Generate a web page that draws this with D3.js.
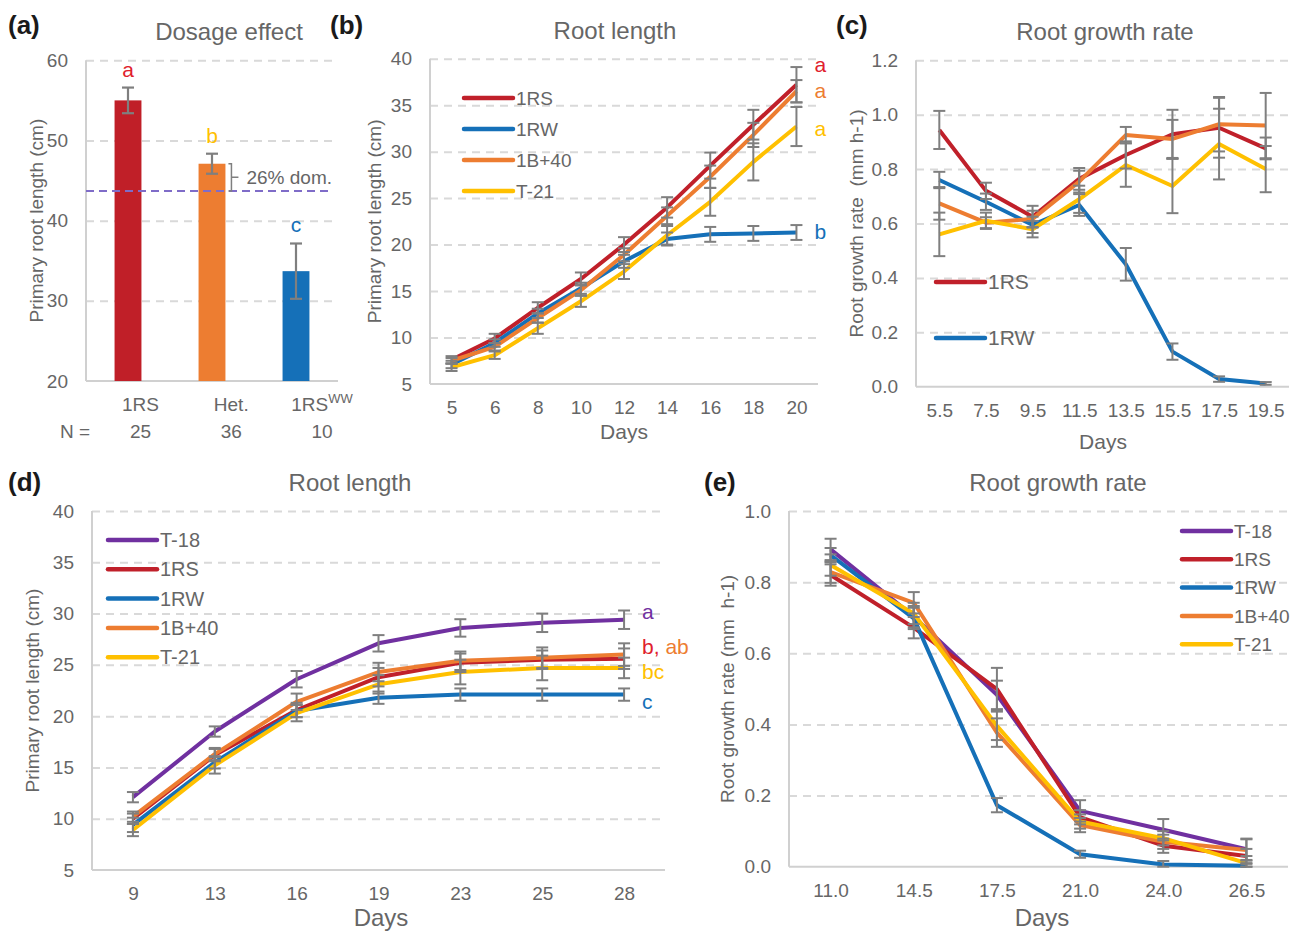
<!DOCTYPE html>
<html>
<head>
<meta charset="utf-8">
<script src="https://cdn.jsdelivr.net/npm/d3@7"></script>
<style>
body { margin: 0; background: #fff; }
svg text { font-family: "Liberation Sans", Arial, sans-serif; fill: #666; }
</style>
</head>
<body>
<script>
//----- (a) dosage effect -----
var dosageCats = ["1RS", "Het.", "1RS^WW"];
var dosageMeans = [55.0, 47.1, 33.7];
var dosageErr = [1.6, 1.25, 3.45];
var dosageN = [25, 36, 10];
var dosageLetters = ["a", "b", "c"];
var dosageMid = 43.7;           // mid-parent value (dashed line)
var dosageDom = "26% dom.";
var dosageTicks = [20, 30, 40, 50, 60];

//----- (b) root length, 4 lines -----
var lenDays = ["5", "6", "8", "10", "12", "14", "16", "18", "20"];
var len1RS  = [7.6, 9.9, 13.2, 16.3, 20.0, 24.0, 28.5, 32.9, 37.2];
var len1RW  = [7.1, 9.4, 12.6, 15.3, 18.2, 20.6, 21.1, 21.2, 21.3];
var len1B40 = [7.5, 9.0, 12.1, 15.1, 18.9, 23.1, 27.3, 31.8, 36.5];
var lenT21  = [6.8, 8.1, 11.0, 13.9, 17.1, 21.0, 24.6, 28.9, 32.7];
var len1RSErr  = [0.4, 0.5, 0.6, 0.7, 0.8, 1.1, 1.4, 1.6, 1.9];
var len1RWErr  = [0.4, 0.4, 0.5, 0.6, 0.7, 0.7, 0.8, 0.8, 0.8];
var len1B40Err = [0.3, 0.4, 0.5, 0.6, 0.7, 0.9, 1.2, 1.3, 1.2];
var lenT21Err  = [0.4, 0.4, 0.6, 0.6, 0.8, 1.0, 1.5, 2.0, 2.1];
var lenTicks = [5, 10, 15, 20, 25, 30, 35, 40];

//----- (c) root growth rate, 4 lines -----
var rateDays = ["5.5", "7.5", "9.5", "11.5", "13.5", "15.5", "17.5", "19.5"];
var rate1RS  = [0.944, 0.72, 0.625, 0.764, 0.852, 0.928, 0.952, 0.876];
var rate1RW  = [0.76, 0.68, 0.595, 0.668, 0.45, 0.129, 0.028, 0.012];
var rate1B40 = [0.674, 0.603, 0.617, 0.754, 0.925, 0.911, 0.965, 0.96];
var rateT21  = [0.56, 0.61, 0.579, 0.689, 0.815, 0.738, 0.892, 0.80];
var rate1RSErr  = [0.07, 0.03, 0.04, 0.04, 0.05, 0.09, 0.11, 0.04];
var rate1RWErr  = [0.03, 0.03, 0.03, 0.04, 0.06, 0.03, 0.01, 0.005];
var rate1B40Err = [0.06, 0.02, 0.03, 0.04, 0.03, 0.07, 0.10, 0.12];
var rateT21Err  = [0.08, 0.03, 0.03, 0.05, 0.08, 0.10, 0.13, 0.085];
var rateTicks = [0, 0.2, 0.4, 0.6, 0.8, 1.0, 1.2];

//----- (d) root length, 5 lines -----
var len2Days = ["9", "13", "16", "19", "23", "25", "28"];
var len2T18  = [12.1, 18.5, 23.6, 27.1, 28.6, 29.1, 29.4];
var len21RS  = [10.0, 16.2, 20.6, 23.8, 25.2, 25.5, 25.6];
var len21RW  = [9.4, 15.5, 20.5, 21.8, 22.1, 22.1, 22.1];
var len21B40 = [10.2, 16.3, 21.4, 24.3, 25.4, 25.7, 26.0];
var len2T21  = [8.9, 15.2, 20.3, 23.1, 24.3, 24.7, 24.7];
var len2T18Err  = [0.5, 0.5, 0.8, 0.8, 0.85, 0.9, 0.9];
var len21RSErr  = [0.5, 0.6, 0.7, 0.9, 0.9, 0.9, 1.0];
var len21RWErr  = [0.7, 0.6, 0.6, 0.6, 0.6, 0.6, 0.6];
var len21B40Err = [0.5, 0.6, 0.8, 0.9, 0.9, 1.0, 1.1];
var len2T21Err  = [0.6, 0.8, 0.8, 0.9, 1.2, 1.2, 1.0];

//----- (e) root growth rate, 5 lines -----
var rate2Days = ["11.0", "14.5", "17.5", "21.0", "24.0", "26.5"];
var rate2T18  = [0.892, 0.703, 0.483, 0.157, 0.104, 0.049];
var rate21RS  = [0.82, 0.672, 0.499, 0.139, 0.059, 0.03];
var rate21RW  = [0.876, 0.698, 0.173, 0.035, 0.006, 0.003];
var rate21B40 = [0.828, 0.742, 0.377, 0.117, 0.07, 0.047];
var rate2T21  = [0.848, 0.712, 0.396, 0.127, 0.08, 0.01];
var rate2T18Err  = [0.03, 0.03, 0.04, 0.03, 0.03, 0.03];
var rate21RSErr  = [0.03, 0.03, 0.06, 0.02, 0.02, 0.02];
var rate21RWErr  = [0.02, 0.03, 0.02, 0.01, 0.01, 0.005];
var rate21B40Err = [0.03, 0.03, 0.04, 0.02, 0.02, 0.03];
var rate2T21Err  = [0.03, 0.03, 0.04, 0.02, 0.02, 0.02];
var rate2Ticks = [0, 0.2, 0.4, 0.6, 0.8, 1.0];

// significance letters at line ends: [text, series, y value]
var lenLetters = [[["a", "1RS"]], [["a", "1B+40"]], [["a", "T-21"]], [["b", "1RW"]]];
var lenLetterY = [39.3, 36.5, 32.4, 21.3];
var len2Letters = [[["a", "T-18"]], [["b, ", "1RS"], ["ab", "1B+40"]], [["bc", "T-21"]], [["c", "1RW"]]];
var len2LetterY = [30.1, 26.7, 24.2, 21.3];

//colours
var color = {"T-18": "#7030a0", "1RS": "#c0202a", "1RW": "#1570b8", "1B+40": "#ed7d31", "T-21": "#ffc000"};
var letterColor = {"T-18": "#7030a0", "1RS": "#e0202c", "1RW": "#1570b8", "1B+40": "#ed7d31", "T-21": "#ffc000"};
var barColors = ["#c01f28", "#ed7d31", "#1570b8"];
var dosageLetterColors = ["#e0202c", "#ffc000", "#1570b8"];
var gridColor = "#d9d9d9", axisColor = "#d0d0d0", errColor = "#7f7f7f";

var svg = d3.select("body").append("svg").attr("width", 1298).attr("height", 932);

function panelLabel(txt, x, y) {
    svg.append("text").attr("x", x).attr("y", y).text(txt)
        .attr("font-size", 26).attr("font-weight", "bold").style("fill", "#1a1a1a");
}

//grid, tick labels and axis lines shared by all panels
function frame(g, y, o) {
    g.append("g").attr("transform", "translate(" + o.left + ",0)")
        .call(d3.axisLeft(y).tickValues(o.ticks.slice(1)).tickSize(-(o.right - o.left)).tickFormat(""))
        .call(function (s) { s.select(".domain").remove(); })
        .selectAll("line").attr("stroke", gridColor).attr("stroke-width", 2).attr("stroke-dasharray", "8,6");
    g.append("g").attr("transform", "translate(" + o.left + ",0)")
        .call(d3.axisLeft(y).tickValues(o.ticks).tickSize(0).tickPadding(18).tickFormat(o.fmt))
        .call(function (s) { s.select(".domain").remove(); })
        .selectAll("text").attr("font-size", 19);
    g.append("line").attr("x1", o.left).attr("x2", o.left).attr("y1", o.top).attr("y2", o.bottom)
        .attr("stroke", axisColor).attr("stroke-width", 2);
    g.append("line").attr("x1", o.left).attr("x2", o.right).attr("y1", o.bottom).attr("y2", o.bottom)
        .attr("stroke", axisColor).attr("stroke-width", 2);
    g.append("text").attr("x", o.titleX).attr("y", o.top - 20).attr("text-anchor", "middle")
        .attr("font-size", 24).text(o.title);
    g.append("text").attr("transform", "translate(" + o.ylabX + "," + ((o.top + o.bottom) / 2) + ") rotate(-90)")
        .attr("text-anchor", "middle").attr("dominant-baseline", "central")
        .attr("font-size", 19).style("white-space", "pre").text(o.ylab);
}

//----- panel (a) -----
(function () {
    var o = {left: 86, right: 338, top: 60.3, bottom: 381, ticks: dosageTicks, fmt: d3.format("d"),
        title: "Dosage effect", titleX: 229, ylab: "Primary root length (cm)", ylabX: 36};
    var g = svg.append("g");
    var x = d3.scaleBand().domain(dosageCats).range([o.left, o.right]).paddingInner(0.68).paddingOuter(0.34);
    var y = d3.scaleLinear().domain([20, 60]).range([o.bottom, o.top]);
    frame(g, y, o);

    g.selectAll(".bar").data(dosageMeans).enter().append("rect")
        .attr("x", function (d, i) { return x(dosageCats[i]); })
        .attr("y", function (d) { return y(d); })
        .attr("width", x.bandwidth())
        .attr("height", function (d) { return y(20) - y(d); })
        .attr("fill", function (d, i) { return barColors[i]; });

    //mid-parent dashed line
    g.append("line").attr("x1", o.left).attr("x2", o.right - 10).attr("y1", y(dosageMid)).attr("y2", y(dosageMid))
        .attr("stroke", "#7f6cc8").attr("stroke-width", 2).attr("stroke-dasharray", "8,5");

    //error bars
    dosageMeans.forEach(function (m, i) {
        var cx = x(dosageCats[i]) + x.bandwidth() / 2;
        var e = g.append("g").attr("stroke", errColor).attr("stroke-width", 2.2);
        e.append("line").attr("x1", cx).attr("x2", cx).attr("y1", y(m - dosageErr[i])).attr("y2", y(m + dosageErr[i]));
        e.append("line").attr("x1", cx - 6).attr("x2", cx + 6).attr("y1", y(m - dosageErr[i])).attr("y2", y(m - dosageErr[i]));
        e.append("line").attr("x1", cx - 6).attr("x2", cx + 6).attr("y1", y(m + dosageErr[i])).attr("y2", y(m + dosageErr[i]));
        g.append("text").attr("x", cx).attr("y", y(m + dosageErr[i]) - 11).attr("text-anchor", "middle")
            .attr("font-size", 21).style("fill", dosageLetterColors[i]).text(dosageLetters[i]);
    });

    //dominance bracket
    var bx = x(dosageCats[1]) + x.bandwidth() + 3;
    var y1 = y(dosageMeans[1]), y2 = y(dosageMid), ym = (y1 + y2) / 2;
    g.append("path").attr("d", "M" + bx + "," + y1 + "h3v" + (y2 - y1) + "h-3M" + (bx + 3) + "," + ym + "h7")
        .attr("fill", "none").attr("stroke", errColor).attr("stroke-width", 1.5);
    g.append("text").attr("x", bx + 18).attr("y", ym).attr("dy", "0.35em").attr("font-size", 19).text(dosageDom);

    //category labels and N row
    var lx = d3.scalePoint().domain(dosageCats).range([x(dosageCats[0]) + x.bandwidth() / 2 + 12.5,
        x(dosageCats[2]) + x.bandwidth() / 2 + 26]);
    dosageCats.forEach(function (c, i) {
        var parts = c.split("^");
        var t = g.append("text").attr("x", lx(c)).attr("y", 411).attr("text-anchor", "middle").attr("font-size", 19);
        t.append("tspan").text(parts[0]);
        if (parts[1]) t.append("tspan").attr("dy", -8).attr("font-size", 13).text(parts[1]);
        g.append("text").attr("x", lx(c)).attr("y", 438).attr("text-anchor", "middle").attr("font-size", 19).text(dosageN[i]);
    });
    g.append("text").attr("x", 60).attr("y", 438).attr("font-size", 19).text("N =");
    panelLabel("(a)", 8, 34);
})();

//----- line panels -----
function linePanel(o) {
    var g = svg.append("g");
    var x = d3.scalePoint().domain(o.days).range([o.left, o.right]).padding(0.5);
    var y = d3.scaleLinear().domain(o.domain).range([o.bottom, o.top]);
    frame(g, y, o);

    g.append("g").attr("transform", "translate(0," + o.bottom + ")")
        .call(d3.axisBottom(x).tickSize(0).tickPadding(16.5))
        .call(function (s) { s.select(".domain").remove(); })
        .selectAll("text").attr("font-size", 19);
    g.append("text").attr("x", o.daysX).attr("y", o.daysY).attr("text-anchor", "middle")
        .attr("font-size", o.daysSize).text("Days");

    var line = d3.line().x(function (d, i) { return x(o.days[i]); }).y(function (d) { return y(d); });
    o.series.forEach(function (s) {
        g.append("path").datum(s.v).attr("d", line).attr("fill", "none")
            .attr("stroke", color[s.name]).attr("stroke-width", 4).attr("stroke-linejoin", "round");
    });
    o.series.forEach(function (s) {
        var e = g.append("g").attr("stroke", errColor).attr("stroke-width", 2);
        s.v.forEach(function (v, i) {
            var cx = x(o.days[i]), lo = y(Math.max(0, v - s.e[i])), hi = y(v + s.e[i]);
            e.append("line").attr("x1", cx).attr("x2", cx).attr("y1", lo).attr("y2", hi);
            e.append("line").attr("x1", cx - 6).attr("x2", cx + 6).attr("y1", lo).attr("y2", lo);
            e.append("line").attr("x1", cx - 6).attr("x2", cx + 6).attr("y1", hi).attr("y2", hi);
        });
    });

    //legend
    o.legendNames.forEach(function (n, i) {
        var ly = o.legend.y + i * o.legend.dy;
        g.append("line").attr("x1", o.legend.x).attr("x2", o.legend.x + 49).attr("y1", ly).attr("y2", ly)
            .attr("stroke", color[n]).attr("stroke-width", 4.5).attr("stroke-linecap", "round");
        g.append("text").attr("x", o.legend.x + 52).attr("y", ly).attr("dy", "0.35em")
            .attr("font-size", o.legend.size).text(n);
    });

    //significance letters
    if (o.letters) {
        var lxPos = x(o.days[o.days.length - 1]) + 18;
        o.letters.forEach(function (parts, i) {
            var t = g.append("text").attr("x", lxPos).attr("y", y(o.letterY[i])).attr("dy", "0.3em")
                .attr("font-size", 21).style("white-space", "pre");
            parts.forEach(function (p) { t.append("tspan").style("fill", letterColor[p[1]]).text(p[0]); });
        });
    }
    panelLabel(o.label, o.labelX, o.labelY);
}

linePanel({
    left: 430, right: 818, top: 58.7, bottom: 384, domain: [5, 40], ticks: lenTicks, fmt: d3.format("d"),
    days: lenDays, title: "Root length", titleX: 615, ylab: "Primary root length (cm)", ylabX: 374,
    daysX: 624, daysY: 439, daysSize: 21,
    series: [{name: "1RS", v: len1RS, e: len1RSErr}, {name: "1RW", v: len1RW, e: len1RWErr},
        {name: "1B+40", v: len1B40, e: len1B40Err}, {name: "T-21", v: lenT21, e: lenT21Err}],
    legendNames: ["1RS", "1RW", "1B+40", "T-21"], legend: {x: 464, y: 98, dy: 31, size: 19},
    letters: lenLetters, letterY: lenLetterY, label: "(b)", labelX: 330, labelY: 34
});

linePanel({
    left: 916, right: 1289, top: 60.3, bottom: 386.7, domain: [0, 1.2], ticks: rateTicks, fmt: d3.format(".1f"),
    days: rateDays, title: "Root growth rate", titleX: 1105, ylab: "Root growth rate  (mm h-1)", ylabX: 856,
    daysX: 1103, daysY: 449, daysSize: 21,
    series: [{name: "1RS", v: rate1RS, e: rate1RSErr}, {name: "1RW", v: rate1RW, e: rate1RWErr},
        {name: "1B+40", v: rate1B40, e: rate1B40Err}, {name: "T-21", v: rateT21, e: rateT21Err}],
    legendNames: ["1RS", "1RW"], legend: {x: 936, y: 282, dy: 56, size: 21},
    label: "(c)", labelX: 836, labelY: 34
});

linePanel({
    left: 92, right: 665, top: 511, bottom: 870, domain: [5, 40], ticks: lenTicks, fmt: d3.format("d"),
    days: len2Days, title: "Root length", titleX: 350, ylab: "Primary root length (cm)", ylabX: 32,
    daysX: 381, daysY: 926, daysSize: 24,
    series: [{name: "T-18", v: len2T18, e: len2T18Err}, {name: "1RS", v: len21RS, e: len21RSErr},
        {name: "1RW", v: len21RW, e: len21RWErr}, {name: "1B+40", v: len21B40, e: len21B40Err},
        {name: "T-21", v: len2T21, e: len2T21Err}],
    legendNames: ["T-18", "1RS", "1RW", "1B+40", "T-21"], legend: {x: 108, y: 540, dy: 29.3, size: 20},
    letters: len2Letters, letterY: len2LetterY, label: "(d)", labelX: 8, labelY: 491
});

linePanel({
    left: 789, right: 1288, top: 511, bottom: 866.7, domain: [0, 1.0], ticks: rate2Ticks, fmt: d3.format(".1f"),
    days: rate2Days, title: "Root growth rate", titleX: 1058, ylab: "Root growth rate (mm  h-1)", ylabX: 727,
    daysX: 1042, daysY: 926, daysSize: 24,
    series: [{name: "T-18", v: rate2T18, e: rate2T18Err}, {name: "1RS", v: rate21RS, e: rate21RSErr},
        {name: "1RW", v: rate21RW, e: rate21RWErr}, {name: "1B+40", v: rate21B40, e: rate21B40Err},
        {name: "T-21", v: rate2T21, e: rate2T21Err}],
    legendNames: ["T-18", "1RS", "1RW", "1B+40", "T-21"], legend: {x: 1182, y: 531, dy: 28.3, size: 19},
    label: "(e)", labelX: 704, labelY: 491
});
</script>
</body>
</html>
